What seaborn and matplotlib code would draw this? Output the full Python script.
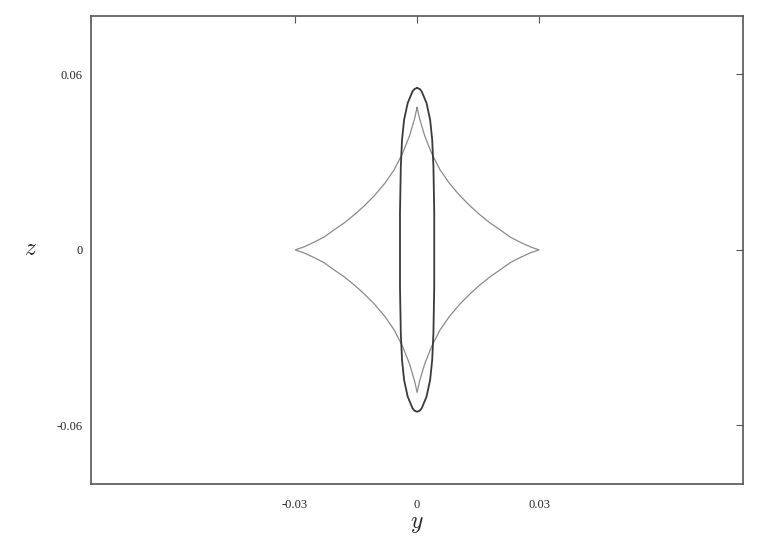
import numpy as np
import matplotlib
matplotlib.use("Agg")
import matplotlib.pyplot as plt
import seaborn as sns

# Caustic (four-cusp curve), upper-right quadrant
caustic_y = [0.0, 0.00062, 0.00185, 0.0035, 0.0056, 0.0080, 0.0105, 0.0130, 0.0154,
             0.0179, 0.0204, 0.0228, 0.0253, 0.0278, 0.0299]
caustic_z = [0.0487, 0.0448, 0.0390, 0.0332, 0.0274, 0.0226, 0.0185, 0.0150, 0.0120,
             0.0092, 0.0068, 0.0044, 0.0026, 0.0010, 0.0]

# Inner oval, upper-right quadrant
oval_y = [0.0, 0.0006, 0.0011, 0.0023, 0.0032, 0.0037, 0.0040, 0.0042, 0.0042]
oval_z = [0.0553, 0.0550, 0.0542, 0.0502, 0.0444, 0.0376, 0.0285, 0.0127, 0.0]

tick_vals_y = [-0.03, 0, 0.03]
tick_labels_y = ["-0.03", "0", "0.03"]
tick_vals_z = [-0.06, 0, 0.06]
tick_labels_z = ["-0.06", "0", "0.06"]


def closed_curve(qy, qz):
    # mirror the quadrant into the full closed curve
    qy = np.array(qy)
    qz = np.array(qz)
    y = np.concatenate([qy, qy[::-1][1:], -qy[1:], -qy[::-1][1:]])
    z = np.concatenate([qz, -qz[::-1][1:], -qz[1:], qz[::-1][1:]])
    return y, z


sns.set_style("white")
plt.rcParams["font.family"] = ["Liberation Serif", "DejaVu Serif"]
plt.rcParams["mathtext.fontset"] = "cm"

fig = plt.figure(figsize=(7.71, 5.42), dpi=100)
ax = fig.add_axes([0.118, 0.107, 0.846, 0.864])

cy, cz = closed_curve(caustic_y, caustic_z)
oy, oz = closed_curve(oval_y, oval_z)
sns.lineplot(x=cy, y=cz, sort=False, estimator=None, color="#8a8a8a", linewidth=0.9, ax=ax)
sns.lineplot(x=oy, y=oz, sort=False, estimator=None, color="#3a3a3a", linewidth=1.3, ax=ax)

ax.set_xlim(-0.08, 0.08)
ax.set_ylim(-0.08, 0.08)
ax.set_xticks(tick_vals_y)
ax.set_xticklabels(tick_labels_y)
ax.set_yticks(tick_vals_z)
ax.set_yticklabels(tick_labels_z)
ax.tick_params(direction="in", length=5, width=0.8, color="#555555",
               top=True, right=True, labelsize=9)
ax.tick_params(axis="x", pad=11)
ax.tick_params(axis="y", pad=6)
for s in ax.spines.values():
    s.set_color("#555555")
    s.set_linewidth(1.2)

ax.set_xlabel("$y$", fontsize=17, labelpad=2)
ax.set_ylabel("$z$", fontsize=17, rotation=0, labelpad=19, va="center")

fig.savefig("out.png", dpi=100)
